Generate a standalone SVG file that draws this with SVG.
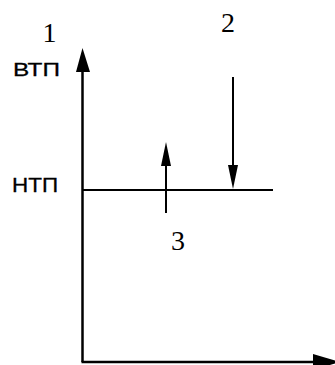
<svg xmlns="http://www.w3.org/2000/svg" width="335" height="365" viewBox="0 0 335 365">
<style>
.ax{stroke:#000;stroke-width:2.5;fill:none}
.ln{stroke:#000;stroke-width:2;fill:none}
.head{fill:#000;stroke:none}
.sans{font-family:"Liberation Sans",Arial,sans-serif;fill:#000}
.serif{font-family:"Liberation Serif","Times New Roman",serif;fill:#000}
</style>
<rect width="335" height="365" fill="#fff"/>
<g id="connectors">
<line class="ax" x1="82.5" y1="362" x2="82.5" y2="70"/>
<polygon class="head" points="82.5,48 76,72 90,72"/>
<line class="ax" x1="81.5" y1="362" x2="315" y2="362"/>
<polygon class="head" points="340,362 313,354 313,370"/>
<line class="ln" x1="82" y1="190" x2="273" y2="190"/>
<line class="ln" x1="166" y1="213" x2="166" y2="164"/>
<polygon class="head" points="166,142 161,166 171,166"/>
<line class="ln" x1="233" y1="77" x2="233" y2="167"/>
<polygon class="head" points="233,189 228,165 238,165"/>
</g>
<g id="label-1"><text class="serif" x="49.5" y="42" font-size="28" text-anchor="middle">1</text></g>
<g id="label-2"><text class="serif" x="228" y="32" font-size="28" text-anchor="middle">2</text></g>
<g id="label-3"><text class="serif" x="178" y="250" font-size="28" text-anchor="middle">3</text></g>
<g id="label-vtp"><text class="sans" x="13" y="76" font-size="19" textLength="47" lengthAdjust="spacingAndGlyphs" stroke="#000" stroke-width="0.3">ВТП</text></g>
<g id="label-ntp"><text class="sans" x="12" y="192" font-size="20" textLength="46" lengthAdjust="spacingAndGlyphs" stroke="#000" stroke-width="0.3">НТП</text></g>
</svg>
